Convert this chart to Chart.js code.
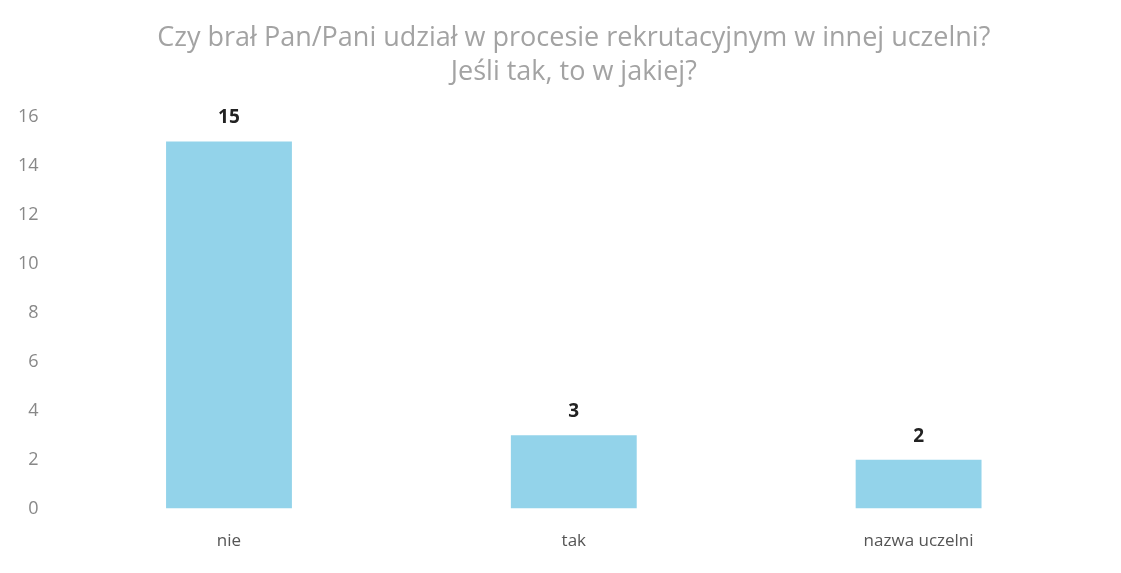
<!DOCTYPE html>
<html>
<head>
<meta charset="utf-8">
<script src="https://cdn.jsdelivr.net/npm/chart.js@4/dist/chart.umd.min.js"></script>
<style>
  html, body { margin: 0; padding: 0; background: #ffffff; }
  #wrap { width: 1121px; height: 573px; position: relative; }
</style>
</head>
<body>
<div id="wrap"><canvas id="wykres"></canvas></div>
<script>
// dane
const kategorie = ['nie', 'tak', 'nazwa uczelni'];
const liczby = [15, 3, 2];
const tytul = ['Czy brał Pan/Pani udział w procesie rekrutacyjnym w innej uczelni?', 'Jeśli tak, to w jakiej?'];
const osY = { min: 0, max: 16, krok: 2 };

// etykiety wartości nad słupkami (bez dodatkowej wtyczki)
const etykietyWartosci = {
    id: 'etykietyWartosci',
    afterDatasetsDraw(chart) {
        const ctx = chart.ctx;
        const meta = chart.getDatasetMeta(0);
        ctx.save();
        ctx.font = 'bold 19px "Open Sans", sans-serif';
        ctx.fillStyle = '#222';
        ctx.textAlign = 'center';
        ctx.textBaseline = 'bottom';
        meta.data.forEach((bar, i) => {
            ctx.fillText(chart.data.datasets[0].data[i], bar.x, bar.y - 14);
        });
        ctx.restore();
    }
};

new Chart(document.getElementById('wykres'), {
    type: 'bar',
    data: {
        labels: kategorie,
        datasets: [{
            data: liczby,
            backgroundColor: '#93d3ea',
            borderWidth: 0,
            barPercentage: 0.365,
            categoryPercentage: 1
        }]
    },
    options: {
        responsive: true,
        maintainAspectRatio: false,
        animation: false,
        layout: { padding: { left: 0, right: 30, top: 0, bottom: 0 } },
        plugins: {
            legend: { display: false },
            tooltip: { enabled: false },
            title: {
                display: true,
                fullSize: false, // tytuł wyśrodkowany nad obszarem wykresu
                text: tytul,
                color: '#a3a3a3',
                font: { family: '"Open Sans", sans-serif', size: 27, weight: 'normal', lineHeight: 1.26 },
                padding: { top: 21, bottom: 28 }
            }
        },
        scales: {
            x: {
                grid: { display: false, drawTicks: false },
                border: { display: false },
                ticks: { color: '#555', font: { family: '"Open Sans", sans-serif', size: 17 }, padding: 22 }
            },
            y: {
                min: osY.min,
                max: osY.max,
                grid: { display: false, drawTicks: false },
                border: { display: false },
                ticks: { stepSize: osY.krok, color: '#888', font: { family: '"Open Sans", sans-serif', size: 18 }, padding: 18 }
            }
        }
    },
    plugins: [etykietyWartosci]
});
</script>
</body>
</html>
